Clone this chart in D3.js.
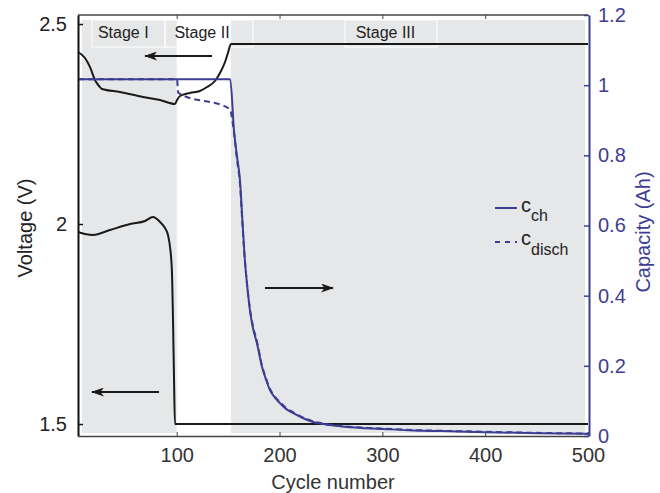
<!DOCTYPE html>
<html>
<head>
<meta charset="utf-8">
<script src="https://cdn.jsdelivr.net/npm/d3@7"></script>
<style>
	body { margin: 0; background: #fff; }
	svg { font-family: "Liberation Sans", Arial, Helvetica, sans-serif; }
</style>
</head>
<body>
<div id="chart"></div>
<script>

// voltage, upper curve (end of charge)
var cycVHigh = [4, 10.8, 15.7, 20.5, 24.4, 27.3, 44.8, 67.2, 83.8, 98.3, 100.3, 103.2, 112.9, 122.5, 129.5, 137.2, 142.1, 147, 149.8, 152.8, 500];
var vHigh = [2.43, 2.415, 2.392, 2.36, 2.345, 2.3375, 2.33, 2.3175, 2.31, 2.30, 2.31, 2.32, 2.3275, 2.3325, 2.3425, 2.3575, 2.3775, 2.405, 2.4275, 2.45, 2.45];

// voltage, lower curve (end of discharge)
var cycVLow = [4, 10.8, 18.6, 35.1, 54.6, 69.2, 77, 83.8, 88.6, 91.5, 93.5, 95.3, 96.4, 97.4, 98.3, 100, 500];
var vLow = [1.98, 1.975, 1.9725, 1.985, 2.0, 2.0075, 2.0175, 2.005, 1.99, 1.9725, 1.9425, 1.885, 1.76, 1.61, 1.5, 1.5, 1.5];

// capacity, charge
var cycCh = [4, 152, 155.7, 158.5, 161.5, 164, 166.3, 168.5, 171.2, 174, 178, 183, 187, 190.7, 196, 200.3, 206, 213, 222, 232.6, 245, 258.8, 280, 300.6, 330, 356, 400, 450, 500];
var capCh = [1.017, 1.017, 0.872, 0.80, 0.73, 0.61, 0.502, 0.43, 0.359, 0.31, 0.265, 0.197, 0.16, 0.131, 0.108, 0.094, 0.078, 0.066, 0.052, 0.040, 0.033, 0.028, 0.023, 0.020, 0.016, 0.014, 0.011, 0.008, 0.006];

// capacity, discharge
var cycDis = [4, 100.3, 101.5, 151.8, 153.5, 155.7, 158.5, 161.5, 164, 166.3, 168.5, 171.2, 174, 178, 183, 187, 190.7, 196, 200.3, 206, 213, 222, 232.6, 245, 258.8, 280, 300.6, 330, 356, 400, 450, 500];
var capDis = [1.017, 1.017, 0.978, 0.932, 0.91, 0.865, 0.79, 0.72, 0.6, 0.5, 0.43, 0.362, 0.315, 0.27, 0.2, 0.163, 0.134, 0.11, 0.097, 0.081, 0.068, 0.054, 0.042, 0.034, 0.029, 0.024, 0.021, 0.017, 0.015, 0.012, 0.009, 0.007];

var xTicks = [100, 200, 300, 400, 500];
var vTicks = [1.5, 2, 2.5];
var capTicks = [0, 0.2, 0.4, 0.6, 0.8, 1, 1.2];

var stageNames = ["Stage I", "Stage II", "Stage III"];
var stageStart = [4, 100, 152.7];
var stageEnd = [100, 152.7, 500];
var stageShaded = [true, false, true];
var stageLabelAt = [48, 124.6, 303];

var width = 660;
var height = 493;
var plotL = 78, plotR = 588, plotT = 15, plotB = 436;

var purple = "#3d3d94";
var grey = "#e6e7e8";
var textCol = "#333";

var x = d3.scaleLinear().domain([4, 500]).range([plotL, plotR]);
var yV = d3.scaleLinear().domain([1.47, 2.5225]).range([plotB, plotT]);
var yC = d3.scaleLinear().domain([0, 1.2]).range([plotB, plotT]);

var svg = d3.select("#chart").append("svg")
	.attr("width", width)
	.attr("height", height);

var defs = svg.append("defs");
function arrowMarker(id) {
	defs.append("marker")
		.attr("id", id)
		.attr("viewBox", "0 0 13 9")
		.attr("refX", 12)
		.attr("refY", 4.5)
		.attr("markerWidth", 13)
		.attr("markerHeight", 9)
		.attr("markerUnits", "userSpaceOnUse")
		.attr("orient", "auto")
		.append("path")
		.attr("d", "M0,0 L13,4.5 L0,9 L3.5,4.5 Z")
		.attr("fill", "#1a1a1a");
}
arrowMarker("arr");

// stage background
var inset = 4;
stageNames.forEach(function(s, i) {
	if (!stageShaded[i]) return;
	var x0 = x(stageStart[i]), x1 = x(stageEnd[i]);
	if (stageStart[i] == 4) x0 += inset;
	if (stageEnd[i] == 500) x1 -= inset - 1;
	svg.append("rect")
		.attr("x", x0)
		.attr("y", plotT + 5)
		.attr("width", x1 - x0)
		.attr("height", plotB - plotT - 8)
		.attr("fill", grey);
});

// label boxes
var boxes = [[92, 165], [165, 253], [345, 437]];
boxes.forEach(function(b) {
	svg.append("rect")
		.attr("x", b[0])
		.attr("y", plotT + 5)
		.attr("width", b[1] - b[0])
		.attr("height", 27)
		.attr("fill", "none")
		.attr("stroke", "#fff")
		.attr("stroke-width", 1);
});

stageNames.forEach(function(s, i) {
	svg.append("text")
		.attr("x", x(stageLabelAt[i]))
		.attr("y", 38)
		.attr("text-anchor", "middle")
		.attr("font-size", 16)
		.attr("fill", "#222")
		.text(s);
});

// lines
function series(cyc, vals, yScale) {
	return cyc.map(function(c, i) { return [x(c), yScale(vals[i])]; });
}
var line = d3.line().curve(d3.curveMonotoneX);

svg.append("path")
	.attr("d", line(series(cycVHigh, vHigh, yV)))
	.attr("fill", "none").attr("stroke", "#1a1a1a").attr("stroke-width", 2);
svg.append("path")
	.attr("d", line(series(cycVLow, vLow, yV)))
	.attr("fill", "none").attr("stroke", "#1a1a1a").attr("stroke-width", 2);
svg.append("path")
	.attr("d", line(series(cycDis, capDis, yC)))
	.attr("fill", "none").attr("stroke", purple).attr("stroke-width", 2)
	.attr("stroke-dasharray", "6,4");
svg.append("path")
	.attr("d", line(series(cycCh, capCh, yC)))
	.attr("fill", "none").attr("stroke", purple).attr("stroke-width", 2);

// arrows
var arrows = [
	[134.3, 69.2, 2.42],
	[82.8, 17.6, 1.58],
	[185.9, 252, 1.84]
];
arrows.forEach(function(a) {
	svg.append("line")
		.attr("x1", x(a[0])).attr("x2", x(a[1]))
		.attr("y1", yV(a[2])).attr("y2", yV(a[2]))
		.attr("stroke", "#1a1a1a").attr("stroke-width", 2)
		.attr("marker-end", "url(#arr)");
});

// legend
var legend = svg.append("g").attr("transform", "translate(495,0)");
legend.append("line").attr("x1", 0).attr("x2", 22).attr("y1", 208).attr("y2", 208)
	.attr("stroke", purple).attr("stroke-width", 2);
legend.append("line").attr("x1", 0).attr("x2", 22).attr("y1", 242).attr("y2", 242)
	.attr("stroke", purple).attr("stroke-width", 2).attr("stroke-dasharray", "5,5");
var t1 = legend.append("text").attr("x", 26).attr("y", 212).attr("font-size", 20).attr("fill", "#222");
t1.append("tspan").text("c");
t1.append("tspan").attr("font-size", 16).attr("dy", 9).text("ch");
var t2 = legend.append("text").attr("x", 26).attr("y", 245).attr("font-size", 20).attr("fill", "#222");
t2.append("tspan").text("c");
t2.append("tspan").attr("font-size", 16).attr("dy", 10).text("disch");

// frame
svg.append("line").attr("x1", plotL).attr("x2", plotR).attr("y1", plotT).attr("y2", plotT)
	.attr("stroke", "#444").attr("stroke-width", 1.5);

// axes
var fmt = d3.format("~g");

var xAxis = svg.append("g")
	.attr("transform", "translate(0," + plotB + ")")
	.call(d3.axisBottom(x).tickValues(xTicks).tickSizeInner(-4).tickSizeOuter(0));
xAxis.select(".domain").attr("stroke", "#444").attr("stroke-width", 1.5);
xAxis.selectAll(".tick line").attr("stroke", "#444");
xAxis.selectAll("text").attr("font-size", 20).attr("fill", textCol).attr("dy", "0.71em").attr("y", 12);

var xTop = svg.append("g")
	.attr("transform", "translate(0," + plotT + ")")
	.call(d3.axisTop(x).tickValues(xTicks.slice(0, 4)).tickSizeInner(-4).tickSizeOuter(0).tickFormat(""));
xTop.select(".domain").remove();
xTop.selectAll(".tick line").attr("stroke", "#444");

var yAxis = svg.append("g")
	.attr("transform", "translate(" + plotL + ",0)")
	.call(d3.axisLeft(yV).tickValues(vTicks).tickSizeInner(-5).tickSizeOuter(0).tickFormat(fmt));
yAxis.select(".domain").attr("stroke", "#111").attr("stroke-width", 2);
yAxis.selectAll(".tick line").attr("stroke", "#111").attr("stroke-width", 1.5);
yAxis.selectAll("text").attr("font-size", 20).attr("fill", "#222").attr("x", -11);

var cAxis = svg.append("g")
	.attr("transform", "translate(" + (plotR + 1) + ",0)")
	.call(d3.axisRight(yC).tickValues(capTicks).tickSizeInner(-5).tickSizeOuter(0).tickFormat(fmt));
cAxis.select(".domain").attr("stroke", purple).attr("stroke-width", 2);
cAxis.selectAll(".tick line").attr("stroke", purple).attr("stroke-width", 1.5);
cAxis.selectAll("text").attr("font-size", 20).attr("fill", purple).attr("x", 9);

// axis titles
svg.append("text")
	.attr("x", (plotL + plotR) / 2)
	.attr("y", 489)
	.attr("text-anchor", "middle")
	.attr("font-size", 20)
	.attr("fill", textCol)
	.text("Cycle number");

svg.append("text")
	.attr("transform", "translate(32,228) rotate(-90)")
	.attr("text-anchor", "middle")
	.attr("font-size", 20)
	.attr("fill", "#222")
	.text("Voltage (V)");

svg.append("text")
	.attr("transform", "translate(650,232) rotate(-90)")
	.attr("text-anchor", "middle")
	.attr("font-size", 20)
	.attr("fill", purple)
	.text("Capacity (Ah)");

</script>
</body>
</html>
